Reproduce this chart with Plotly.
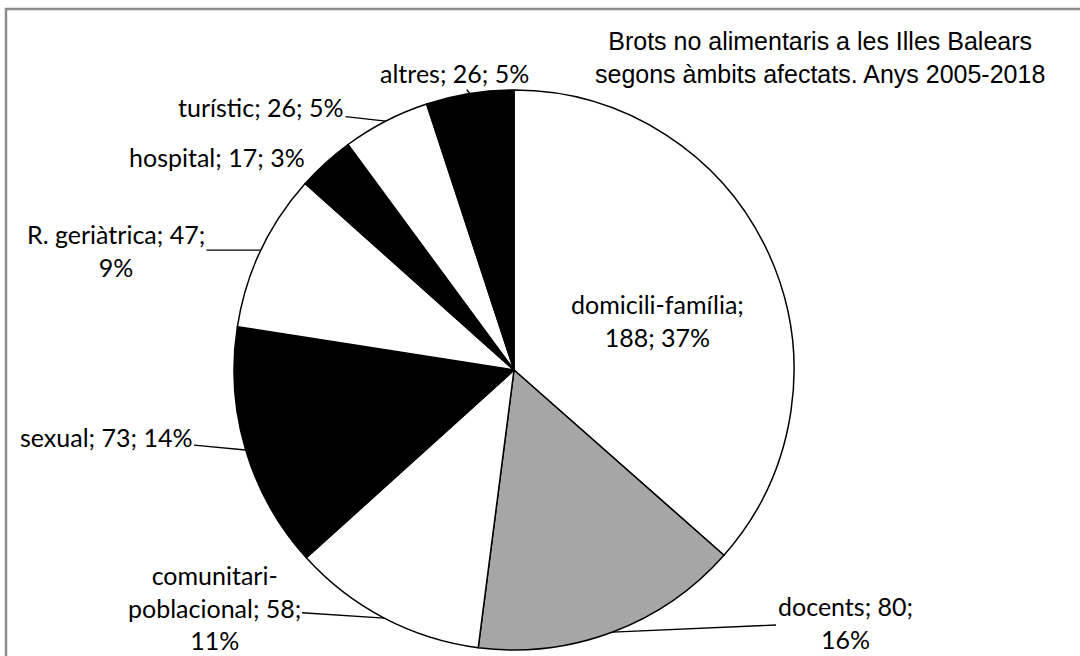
import math
import plotly.graph_objects as go

# ---- data ----
categories = ["domicili-família", "docents", "comunitari-poblacional", "sexual",
              "R. geriàtrica", "hospital", "turístic", "altres"]
values = [188, 80, 58, 73, 47, 17, 26, 26]
label_texts = ["domicili-família;<br>188; 37%", "docents; 80;<br>16%",
               "comunitari-<br>poblacional; 58;<br>11%", "sexual; 73; 14%",
               "R. geriàtrica; 47;<br>9%", "hospital; 17; 3%",
               "turístic; 26; 5%", "altres; 26; 5%"]
slice_colors = ["#ffffff", "#a6a6a6", "#ffffff", "#000000",
                "#ffffff", "#000000", "#ffffff", "#000000"]
title_text = "Brots no alimentaris a les Illes Balears<br>segons àmbits afectats. Anys 2005-2018"

# ---- layout (pixels) ----
W, H = 1080, 656
CX, CY, R = 514, 370, 280
# text centers for each label (pixel coords), and whether a leader line is drawn
label_pos = [(657, 320), (845, 622), (214, 607), (106, 437),
             (116, 250), (217, 157), (261, 107), (454, 73)]
leader = [False, True, True, True, True, False, True, True]
label_font = dict(family="Lato", size=25, color="black")
title_center = (820, 58)


def px2paper(x, y):
    return x / W, 1 - y / H


fig = go.Figure()
fig.add_trace(go.Pie(
    labels=categories, values=values, sort=False, direction="clockwise",
    rotation=0, textinfo="none", hoverinfo="none", showlegend=False,
    marker=dict(colors=slice_colors, line=dict(color="black", width=1.5)),
    domain=dict(x=[(CX - R) / W, (CX + R) / W],
                y=[(H - CY - R) / H, (H - CY + R) / H]),
))

total = sum(values)
annotations = []
cum = 0
for v, txt, (tx, ty), has_line in zip(values, label_texts, label_pos, leader):
    mid = (cum + v / 2) / total * 2 * math.pi
    cum += v
    ex = CX + R * math.sin(mid)
    ey = CY - R * math.cos(mid)
    if has_line:
        px, py = px2paper(ex, ey)
        annotations.append(dict(
            x=px, y=py, xref="paper", yref="paper", text=txt,
            showarrow=True, arrowhead=0, arrowwidth=1.3, arrowcolor="black",
            ax=tx - ex, ay=ty - ey, font=label_font, align="center",
            xanchor="center", yanchor="middle"))
    else:
        px, py = px2paper(tx, ty)
        annotations.append(dict(
            x=px, y=py, xref="paper", yref="paper", text=txt,
            showarrow=False, font=label_font, align="center",
            xanchor="center", yanchor="middle"))

px, py = px2paper(*title_center)
annotations.append(dict(
    x=px, y=py, xref="paper", yref="paper", text=title_text, showarrow=False,
    font=dict(family="Liberation Sans", size=25, color="black"),
    align="center", xanchor="center", yanchor="middle"))

fig.update_layout(
    width=W, height=H, margin=dict(l=0, r=0, t=0, b=0),
    paper_bgcolor="white", plot_bgcolor="white",
    annotations=annotations,
    shapes=[dict(type="rect", xref="paper", yref="paper",
                 x0=6 / W, x1=1.05, y0=-0.05, y1=1 - 9 / H,
                 line=dict(color="#8c8c8c", width=2.5))],
)

fig.write_html("out.html", config={"displayModeBar": False},
               post_script="document.body.style.margin='0';"
                           "document.body.style.overflow='hidden';")
